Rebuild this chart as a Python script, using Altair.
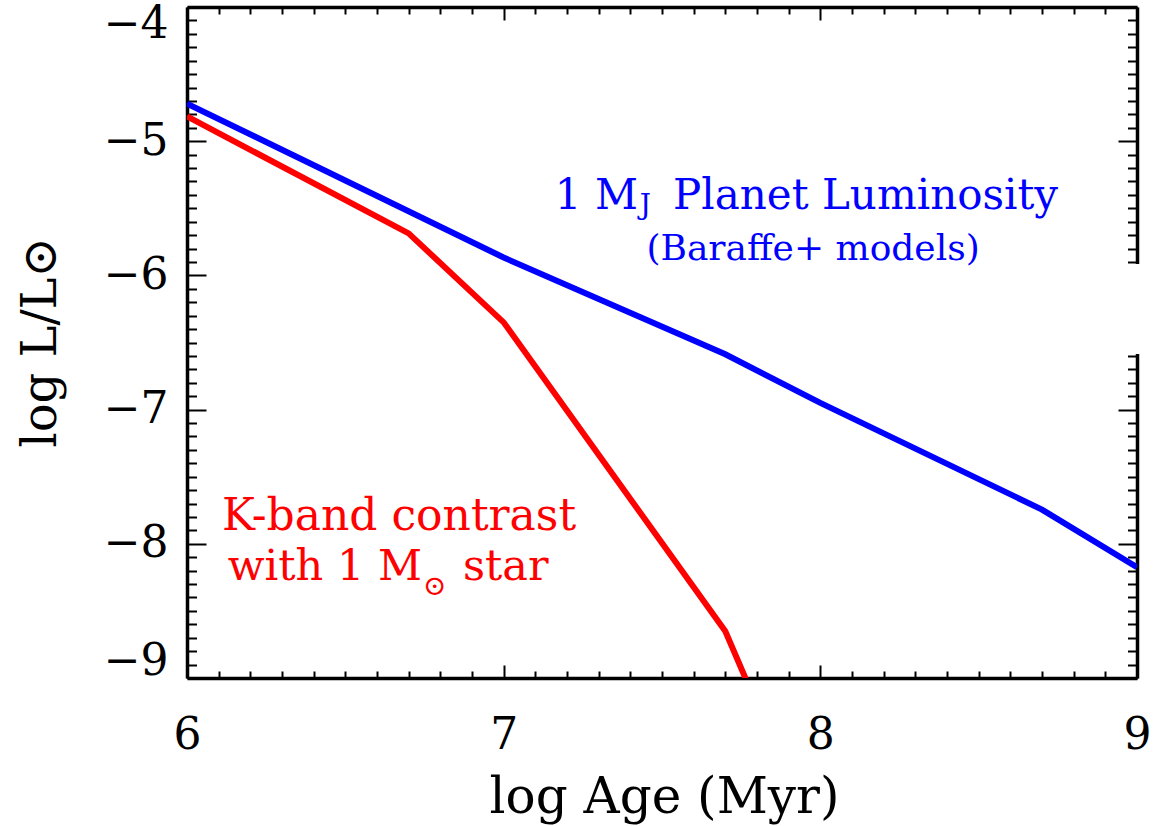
import altair as alt
import pandas as pd

FONT = "DejaVu Serif"

# ---- data ----
planet_age = [6.0, 7.0, 7.7, 8.0, 8.7, 9.0]
planet_logL = [-4.72, -5.867, -6.588, -6.95, -7.745, -8.175]

contrast_age = [6.0, 6.7, 7.0, 7.7, 8.0]
contrast_logL = [-4.815, -5.687, -6.35, -8.652, -10.3]

x_major = [6, 7, 8, 9]
y_major = [-9, -8, -7, -6, -5, -4]
x_ticks = [round(6 + i * 0.1, 1) for i in range(31)]
y_ticks = [round(-9 + i * 0.1, 1) for i in range(51)]

# annotations
ann_text = ["1 M", "J", "Planet Luminosity", "(Baraffe+ models)",
            "K-band contrast", "with 1 M", "\u2299", "star"]
ann_x = [7.424, 7.430, 7.535, 7.977, 6.1105, 6.742, 6.745, 6.8715]
ann_y = [-5.503, -5.541, -5.503, -5.884, -7.897, -8.270, -8.38, -8.270]
ann_size = [42, 28, 42, 36, 44, 43, 28, 43]
ann_color = ["#0000ff"] * 4 + ["#ff0000"] * 4
ann_align = ["right", "left", "left", "center", "left", "right", "left", "left"]

# white patch interrupting the right frame
mask_x = [8.7]
mask_x2 = [9.05]
mask_y = [-5.915]
mask_y2 = [-6.585]

planet = pd.DataFrame({"age": planet_age, "logL": planet_logL})
contrast = pd.DataFrame({"age": contrast_age, "logL": contrast_logL})

xs = alt.Scale(domain=[6, 9], nice=False, zero=False)
ys = alt.Scale(domain=[-9, -4], nice=False, zero=False)

is_major = "abs(datum.value - round(datum.value)) < 0.001"
label_expr = f"{is_major} ? format(datum.value, 'd') : ''"

common_axis = dict(
    domainColor="black", domainWidth=3.5, tickColor="black", tickWidth=2,
    grid=False, labelFont=FONT, titleFont=FONT, labelColor="black",
    titleColor="black", titleFontWeight="normal", labelOverlap=False,
    tickCount=200, tickMinStep=0.05, labelFlush=False,
)

x_bottom = alt.Axis(
    orient="bottom", values=x_ticks, labelExpr=label_expr,
    tickSize={"expr": f"{is_major} ? -13 : -7"},
    labelFontSize=44, labelBaseline="alphabetic", labelPadding=83,
    title="log Age (Myr)", titleFontSize=50, titleBaseline="alphabetic",
    titleY=134, titleX=477, titleAlign="center", **common_axis,
)
y_left = alt.Axis(
    orient="left", values=y_ticks, labelExpr=label_expr,
    tickSize={"expr": f"{is_major} ? -19 : -9.5"},
    labelOffset={"expr": "datum.value > -4.5 ? 17 : (datum.value < -8.5 ? -17 : 0)"},
    labelFontSize=44, labelPadding=38, labelAlign="right", labelBaseline="middle",
    title="log L/L\u2299", titleFontSize=48, titleBaseline="alphabetic",
    titleAngle=270, titleX=-132, titleY=335, titleAlign="center", **common_axis,
)
x_top = alt.Axis(
    orient="top", values=x_ticks, labels=False, title=None,
    tickSize={"expr": f"{is_major} ? -13 : -7"}, **common_axis,
)
y_right = alt.Axis(
    orient="right", values=y_ticks, labels=False, title=None,
    tickSize={"expr": f"{is_major} ? -19 : -9.5"}, **common_axis,
)

blue = alt.Chart(planet).mark_line(color="#0000ff", strokeWidth=6, clip=True).encode(
    x=alt.X("age:Q", scale=xs, axis=x_bottom),
    y=alt.Y("logL:Q", scale=ys, axis=y_left),
)
red = alt.Chart(contrast).mark_line(color="#ff0000", strokeWidth=6, clip=True).encode(
    x=alt.X("age:Q", scale=xs, axis=None),
    y=alt.Y("logL:Q", scale=ys, axis=None),
)
frame = alt.Chart(planet).mark_line(strokeOpacity=0).encode(
    x=alt.X("age:Q", scale=xs, axis=x_top),
    y=alt.Y("logL:Q", scale=ys, axis=y_right),
)
mask = alt.Chart(pd.DataFrame({"x": mask_x, "x2": mask_x2, "y": mask_y, "y2": mask_y2})).mark_rect(
    color="white", opacity=1
).encode(
    x=alt.X("x:Q", scale=xs, axis=None), x2="x2:Q",
    y=alt.Y("y:Q", scale=ys, axis=None), y2="y2:Q",
)

texts = []
for t, x, y, s, c, a in zip(ann_text, ann_x, ann_y, ann_size, ann_color, ann_align):
    d = pd.DataFrame({"t": [t], "x": [x], "y": [y]})
    texts.append(
        alt.Chart(d).mark_text(font=FONT, fontSize=s, color=c, align=a, baseline="alphabetic").encode(
            x=alt.X("x:Q", scale=xs, axis=None),
            y=alt.Y("y:Q", scale=ys, axis=None),
            text="t:N",
        )
    )

chart = alt.layer(blue, red, frame, mask, *texts).resolve_axis(
    x="independent", y="independent"
).properties(
    width=950, height=671,
    autosize=alt.AutoSizeParams(type="none"),
    padding={"left": 187, "top": 7, "right": 17, "bottom": 148},
    background="white",
).configure_view(stroke=None)

chart.save("out.html", embed_options={"renderer": "svg", "actions": False})
